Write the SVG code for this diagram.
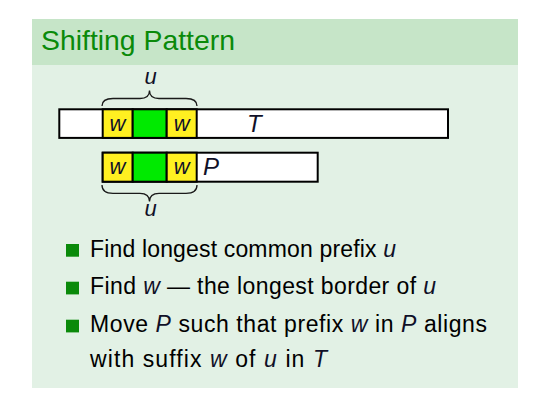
<svg xmlns="http://www.w3.org/2000/svg" width="549" height="410" viewBox="0 0 549 410">
<style>
  .bar { fill: #ffffff; stroke: #000; stroke-width: 2; }
  .yel { fill: #fff021; stroke: #000; stroke-width: 2; }
  .grn { fill: #00ea00; stroke: #000; stroke-width: 2; }
  .math { font-family: "Liberation Sans", Arial, sans-serif; font-style: italic; fill: #101028; }
  .cell { font-size: 22px; text-anchor: middle; }
  .lbl { font-size: 24px; }
  .brace { fill: none; stroke: #1a1a1a; stroke-width: 1.3; }
  .body { font-family: "Liberation Sans", Arial, sans-serif; font-size: 23px; fill: #000; }
  .it { font-style: italic; fill: #101028; }
  .bullet { fill: #0a8a0a; }
</style>
<rect x="0" y="0" width="549" height="410" fill="#ffffff"/>
<g id="panel">
  <rect x="32" y="19" width="486" height="46" fill="#c6e5c8"/>
  <rect x="32" y="65" width="486" height="323" fill="#e2f1e5"/>
  <text x="41" y="49.5" font-family="Liberation Sans, Arial, sans-serif" font-size="28" fill="#0a8a0a" textLength="194" lengthAdjust="spacingAndGlyphs">Shifting Pattern</text>
</g>
<g id="T-bar">
  <rect class="bar" x="59.3" y="109.3" width="388.7" height="28.6"/>
  <rect class="yel" x="102.7" y="109.3" width="30" height="28.6"/>
  <rect class="grn" x="132.7" y="109.3" width="34" height="28.6"/>
  <rect class="yel" x="166.7" y="109.3" width="30" height="28.6"/>
  <text class="math cell" x="117.5" y="131">w</text>
  <text class="math cell" x="181.7" y="131">w</text>
  <text class="math lbl" x="247" y="131.7">T</text>
</g>
<g id="P-bar">
  <rect class="bar" x="102.7" y="152.7" width="215" height="29"/>
  <rect class="yel" x="102.7" y="152.7" width="30" height="29"/>
  <rect class="grn" x="132.7" y="152.7" width="34" height="29"/>
  <rect class="yel" x="166.7" y="152.7" width="30" height="29"/>
  <text class="math cell" x="117.5" y="173.5">w</text>
  <text class="math cell" x="181.7" y="173.5">w</text>
  <text class="math lbl" x="203" y="175">P</text>
</g>
<g id="connectors">
  <path class="brace" d="M102,106 Q102,98.5 113,98.5 L140,98.5 Q149.5,98.5 149.5,90.5 Q149.5,98.5 159,98.5 L186,98.5 Q197,98.5 197,106"/>
  <path class="brace" d="M102,185 Q102,193.3 113,193.3 L140,193.3 Q149.5,193.3 149.5,201.5 Q149.5,193.3 159,193.3 L186,193.3 Q197,193.3 197,185"/>
  <text class="math cell" x="150.5" y="84">u</text>
  <text class="math cell" x="150.5" y="215.7">u</text>
</g>
<g id="bullets">
  <rect class="bullet" x="66" y="244" width="13" height="12.7"/>
  <rect class="bullet" x="66" y="281.7" width="13" height="12.7"/>
  <rect class="bullet" x="66" y="319.7" width="13" height="12.7"/>
  <text class="body" x="90" y="256.5" xml:space="preserve" textLength="306">Find longest common prefix <tspan class="it">u</tspan></text>
  <text class="body" x="90" y="294.3" xml:space="preserve" textLength="346">Find <tspan class="it">w</tspan> — the longest border of <tspan class="it">u</tspan></text>
  <text class="body" x="90" y="332.3" xml:space="preserve" textLength="397">Move <tspan class="it">P</tspan> such that prefix <tspan class="it">w</tspan> in <tspan class="it">P</tspan> aligns</text>
  <text class="body" x="90" y="366.7" xml:space="preserve" textLength="237">with suffix <tspan class="it">w</tspan> of <tspan class="it">u</tspan> in <tspan class="it">T</tspan></text>
</g>
</svg>
